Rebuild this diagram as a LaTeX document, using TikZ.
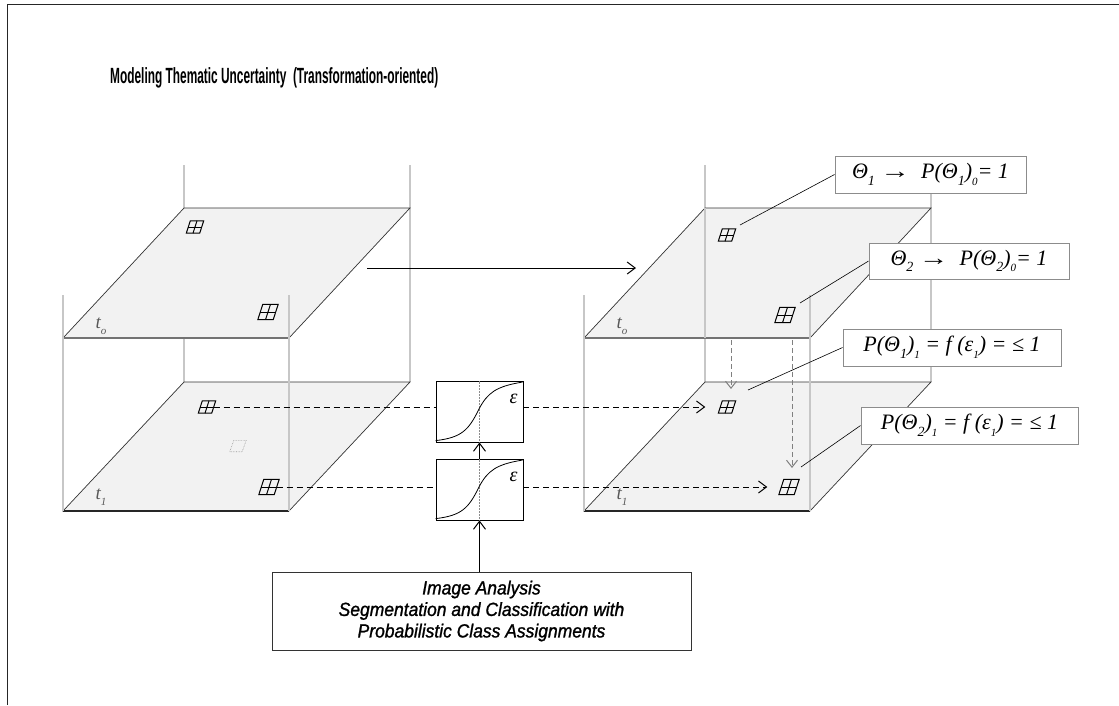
\documentclass[tikz,border=0pt]{standalone}
\usepackage{fontspec}
\setmainfont{Liberation Serif}
\newfontfamily\condsans[FakeStretch=0.54]{Liberation Sans Bold}
\newfontfamily\condsansit[FakeStretch=0.92,FakeBold=1.2]{Liberation Sans Italic}
\usetikzlibrary{arrows.meta,calc}

% small lowered indices
\newcommand\lo[1]{\raisebox{-0.3em}{\fontsize{14}{14}\selectfont #1}}
\newcommand\lox[1]{\raisebox{-0.3em}{\fontsize{11}{11}\selectfont #1}}
\newcommand\maps{\scalebox{1.35}[1]{→}}

\begin{document}
\begin{tikzpicture}[x=1pt,y=-1pt,
  frame/.style={draw=black!85,line width=0.9pt},
  guide/.style={draw=black!22,line width=1.1pt},
  plane/.style={fill=black!5,draw=black!80,line width=0.7pt},
  cellS/.style={inner sep=0,minimum width=13pt,minimum height=12pt},
  cellB/.style={inner sep=0,minimum width=15pt,minimum height=15pt},
  cellline/.style={draw=black,line width=1pt},
  sigbox/.style={draw=black,line width=0.9pt,fill=white,inner sep=0,
    minimum width=87pt,minimum height=61pt},
  lbl/.style={draw=black!45,fill=white,line width=0.9pt,inner sep=0,
    font=\itshape\fontsize{22}{26}\selectfont},
  leader/.style={draw=black,line width=0.6pt},
  tip/.style={-{Straight Barb[length=8pt,width=12pt,line width=1pt]}},
  dasharrow/.style={draw=black,line width=1pt,dash pattern=on 6pt off 4pt},
  greyarrow/.style={draw=black!50,line width=1pt,dash pattern=on 5pt off 3pt,
    -{Straight Barb[length=7pt,width=11pt,line width=1pt]}},
  tlabel/.style={text=black!65,font=\itshape\fontsize{19}{19}\selectfont,inner sep=0}
]
\useasboundingbox (0,0) rectangle (1119,705);

% page frame (top and left rules)
\draw[frame] (7,705) -- (7,4) -- (1119,4);

% title
\node[anchor=west,inner sep=0,font=\condsans\fontsize{22}{24}\selectfont] (title) at (110,78)
  {Modeling Thematic Uncertainty \ (Transformation-oriented)};

% two stacked layers, left and right
\foreach \o in {0,521}{
  \draw[guide] (184+\o,165) -- (184+\o,382);
  \draw[guide] (410+\o,165) -- (410+\o,382);
  \draw[plane] (184+\o,382) -- (410+\o,382) -- (289+\o,511) -- (63+\o,511) -- cycle;
  \draw[black!85,line width=1.3pt] (63+\o,511) -- (289+\o,511);
  \draw[plane] (184+\o,208) -- (410+\o,208) -- (289+\o,338) -- (63+\o,338) -- cycle;
  \draw[black!55,line width=1.4pt] (63+\o,338) -- (289+\o,338);
  \draw[guide] (63+\o,295) -- (63+\o,511);
  \draw[guide] (289+\o,295) -- (289+\o,511);
}
% back edge seen through the right upper layer
\draw[guide] (705,208) -- (705,338);

% time labels
\node[tlabel] (t0L) at (101,326) {t\lox{o}};
\node[tlabel] (t1L) at (101,497) {t\lox{1}};
\node[tlabel] (t0R) at (622,326) {t\lox{o}};
\node[tlabel] (t1R) at (622,497) {t\lox{1}};

% cell markers
\node[cellS] (LT1) at (195,227) {};
\node[cellB] (LT2) at (268,312) {};
\node[cellS] (LB1) at (207,407) {};
\node[cellB] (LB2) at (269,487) {};
\node[cellS] (RT1) at (727,235) {};
\node[cellB] (RT2) at (785,315) {};
\node[cellS] (RB1) at (727,407) {};
\node[cellB] (RB2) at (789,487) {};
\foreach \n in {LT1,LB1,RT1,RB1}{
  \draw[cellline] ([xshift=-2pt]\n.south west) -- ([xshift=-2pt]\n.south east)
    -- ([xshift=2pt]\n.north east) -- ([xshift=2pt]\n.north west) -- cycle;
  \draw[cellline] ([xshift=-2pt]\n.south) -- ([xshift=2pt]\n.north);
  \draw[cellline] (\n.west) -- (\n.east);
}
\foreach \n in {LT2,LB2,RT2,RB2}{
  \draw[cellline] ([xshift=-2.5pt]\n.south west) -- ([xshift=-2.5pt]\n.south east)
    -- ([xshift=2.5pt]\n.north east) -- ([xshift=2.5pt]\n.north west) -- cycle;
  \draw[cellline] ([xshift=-2.5pt]\n.south) -- ([xshift=2.5pt]\n.north);
  \draw[cellline] (\n.west) -- (\n.east);
}
% unassigned cell outline
\node[cellS,minimum width=12pt,minimum height=11pt] (U) at (238,446) {};
\draw[black!40,densely dotted,line width=0.6pt] ([xshift=-2pt]U.south west) -- ([xshift=-2pt]U.south east)
  -- ([xshift=2pt]U.north east) -- ([xshift=2pt]U.north west) -- cycle;

% membership functions
\node[sigbox] (sigA) at (479.5,411.5) {};
\node[sigbox] (sigB) at (479.5,489.5) {};
\foreach \s in {sigA,sigB}{
  \draw[black!45,densely dotted,line width=0.5pt] (\s.south) -- (\s.north);
  \begin{scope}[shift={(\s.south west)},x=87pt,y=61pt]
    \draw[black,line width=0.8pt]
      (0,0.03) .. controls (0.3,0.08) and (0.38,0.2) .. (0.5,0.55)
      .. controls (0.6,0.82) and (0.7,0.92) .. (1,0.99);
  \end{scope}
}
\node[font=\itshape\fontsize{20}{20}\selectfont,inner sep=0] (epsA) at ([xshift=-10pt,yshift=-18pt]sigA.north east) {ε};
\node[font=\itshape\fontsize{20}{20}\selectfont,inner sep=0] (epsB) at ([xshift=-10pt,yshift=-18pt]sigB.north east) {ε};

% image analysis box
\node[draw=black!80,line width=0.9pt,minimum width=419pt,minimum height=78pt,inner sep=0,
  align=center,font=\condsansit\fontsize{19}{21.5}\selectfont] (IA) at (481.5,611)
  {Image Analysis\\Segmentation and Classification with\\Probabilistic Class Assignments};

\draw[black,line width=1pt,tip] (IA.north -| sigB.south) -- (sigB.south);
\draw[black,line width=1pt,tip] (sigB.north) -- (sigA.south);

% dashed transfers through the membership functions
\draw[dasharrow] (LB1.east) -- (LB1.east -| sigA.west);
\draw[dasharrow,tip,shorten >=15pt] (LB1 -| sigA.east) -- (RB1.west);
\draw[dasharrow] (LB2.east) -- (LB2.east -| sigB.west);
\draw[dasharrow,tip,shorten >=14pt] (LB2 -| sigB.east) -- (RB2.west);

% transformation arrow
\coordinate (h1) at (367,268);
\coordinate (h2) at (636,268);
\draw[black,line width=1pt,tip] (h1) -- (h2);

% propagation between layers
\coordinate (g1s) at (731,340);
\coordinate (g1e) at (731,389);
\coordinate (g2s) at (792,340);
\coordinate (g2e) at (792,468);
\draw[greyarrow] (g1s) -- (g1e);
\draw[greyarrow] (g2s) -- (g2e);

% probability labels
\node[lbl,minimum width=191pt,minimum height=37pt] (L1) at (930.5,174.5)
  {Θ\lo{1} \maps\ \ P(Θ\lo{1})\lox{0}= 1};
\node[lbl,minimum width=200pt,minimum height=36pt] (L2) at (969,261)
  {Θ\lo{2} \maps\ \ P(Θ\lo{2})\lox{0}= 1};
\node[lbl,minimum width=218pt,minimum height=37pt] (L3) at (952,347.5)
  {P(Θ\lo{1})\lox{1} = f (ε\lox{1}) = ≤ 1};
\node[lbl,minimum width=217pt,minimum height=37pt] (L4) at (969.5,425.5)
  {P(Θ\lo{2})\lox{1} = f (ε\lox{1}) = ≤ 1};

\coordinate (p1) at (740,225);
\coordinate (p2) at (800,303);
\coordinate (p3) at (748,390);
\coordinate (p4) at (801,467);
\draw[leader] (L1.west) -- (p1);
\draw[leader] (L2.west) -- (p2);
\draw[leader] (L3.west) -- (p3);
\draw[leader] (L4.west) -- (p4);
\end{tikzpicture}
\end{document}
